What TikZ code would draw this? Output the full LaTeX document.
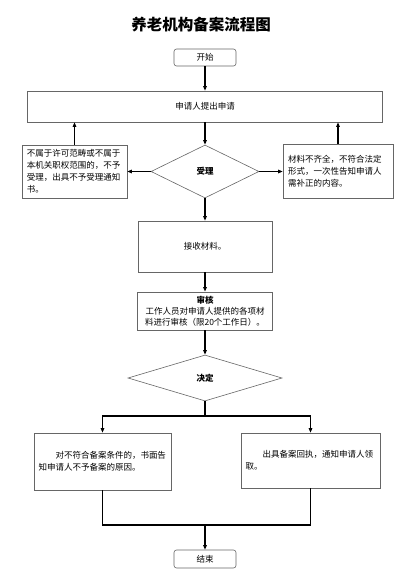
\documentclass[tikz,border=0pt]{standalone}
\usepackage{fontspec}
\setmainfont{Noto Sans CJK SC}
\usetikzlibrary{arrows.meta,shapes.geometric}

\begin{document}
\begin{tikzpicture}[x=1pt,y=-1pt,
    box/.style={draw=black!60,line width=0.6pt,inner sep=4pt,
      font=\fontsize{8.5}{12}\selectfont},
    endbox/.style={box,rounded corners=2.5pt},
    choice/.style={diamond,draw=black!60,line width=0.6pt,inner sep=0pt,
      font=\fontsize{8.5}{12}\selectfont\bfseries},
    flow/.style={line width=1.3pt,-{Triangle[length=4.5pt,width=3.5pt]}},
    link/.style={line width=1.3pt}]
  \useasboundingbox (0,0) rectangle (412,578);
  % title
  \node (title) at (201,25) {\fontsize{15.5}{18}\selectfont\bfseries 养老机构备案流程图};
  % upper part
  \node[endbox,minimum width=62pt,minimum height=17pt] (start) at (205,57.5) {开始};
  \node[box,minimum width=355pt,minimum height=31pt] (apply) at (205,106.5) {申请人提出申请};
  \node[choice,minimum width=108pt,minimum height=53pt] (accept) at (205,171.5) {受理};
  \node[box,minimum width=105pt,minimum height=53pt,text width=95pt,align=left] (refuse) at (74.5,171.5)
    {不属于许可范畴或不属于\\本机关职权范围的，不予\\受理，出具不予受理通知\\书。};
  \node[box,minimum width=110pt,minimum height=54pt,text width=100pt,align=left] (supply) at (338,171.5)
    {材料不齐全，不符合法定\\形式，一次性告知申请人\\需补正的内容。};
  \node[box,minimum width=134pt,minimum height=51pt] (receive) at (205,246.5) {接收材料。};
  \node[box,minimum width=135pt,minimum height=36pt,align=center,
    font=\fontsize{8.5}{11}\selectfont] (review) at (205,311)
    {\textbf{审核}\\工作人员对申请人提供的各项材\\料进行审核（限20个工作日）。};
  \node[choice,minimum width=154pt,minimum height=46pt] (decide) at (205,378) {决定};
  % lower part
  \node[box,minimum width=137pt,minimum height=57pt,text width=128pt,align=left] (reject) at (102.5,461.5)
    {\hspace*{17pt}对不符合备案条件的，书面告\\知申请人不予备案的原因。};
  \node[box,minimum width=139pt,minimum height=55pt,text width=130pt,align=left] (record) at (310.5,460.5)
    {\hspace*{17pt}出具备案回执，通知申请人领\\取。};
  \node[endbox,minimum width=62pt,minimum height=18pt] (finish) at (205,559) {结束};
  \coordinate (split) at (205,416);
  \coordinate (join) at (205,525);
  % connectors
  \draw[flow] (start) -- (apply);
  \draw[flow] (refuse.north) -- (refuse.north |- apply.south);
  \draw[flow] (supply.north) -- (supply.north |- apply.south);
  \draw[flow] (apply) -- (accept);
  \draw[flow] (accept) -- (refuse);
  \draw[flow] (accept) -- (supply);
  \draw[flow] (accept) -- (receive);
  \draw[flow] (receive) -- (review);
  \draw[flow] (review) -- (decide);
  \draw[link] (decide) -- (split);
  \draw[flow] (split) -| (reject);
  \draw[flow] (split) -| (record);
  \draw[link] (reject) |- (join) -| (record);
  \draw[flow] (join) -- (finish);
\end{tikzpicture}
\end{document}
